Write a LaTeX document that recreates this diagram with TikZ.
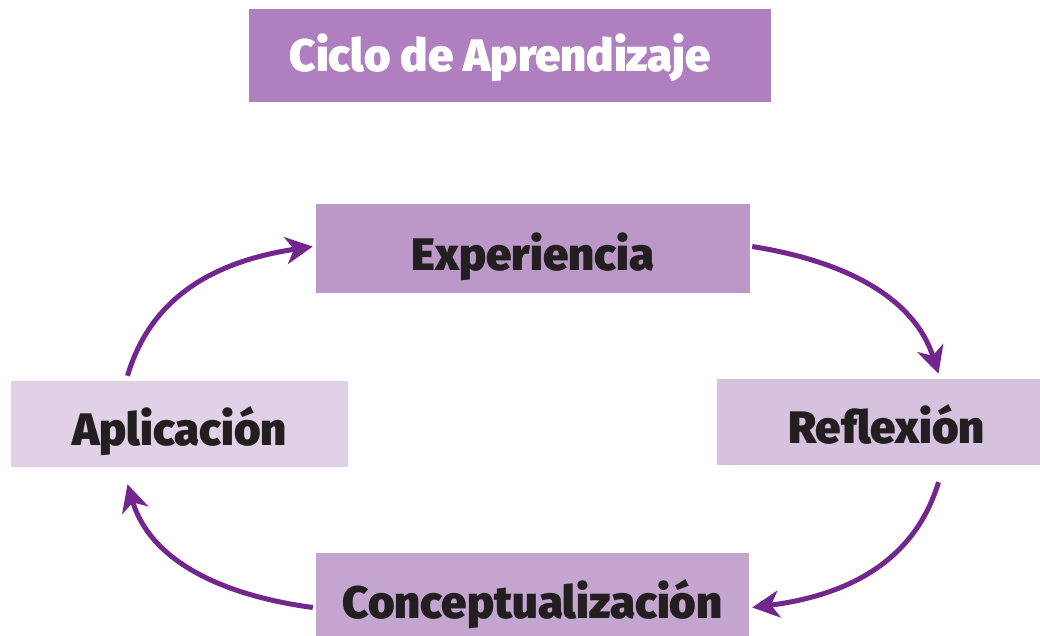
\documentclass[tikz,border=0pt]{standalone}
\usepackage{fontspec}
\setmainfont{Fira Sans}[BoldFont={* Black}]
\usetikzlibrary{arrows.meta}
\definecolor{titlebg}{HTML}{B07FC0}
\definecolor{expbg}{HTML}{BC98C8}
\definecolor{refbg}{HTML}{D6C2DF}
\definecolor{aplbg}{HTML}{E0D1E6}
\definecolor{conbg}{HTML}{C3A5CF}
\definecolor{arrowc}{HTML}{74268F}
\definecolor{txt}{HTML}{231F20}
\tikzset{
  box/.style={rectangle, inner sep=0pt, font=\bfseries\fontsize{45.5}{50}\selectfont, text=txt, text depth=0pt},
  cyc/.style={draw=arrowc, line width=5pt, -{Stealth[length=27pt,width=27pt,inset=8pt]}},
}
\begin{document}
\begin{tikzpicture}[x=1pt,y=-1pt]
\useasboundingbox (0,0) rectangle (1040,636);
\node[box, fill=titlebg, text=white, minimum width=522pt, minimum height=93pt, text height=33pt] (title) at (510,55.5) {\hspace*{-20pt}Ciclo de Aprendizaje};
\node[box, fill=expbg, minimum width=434pt, minimum height=89pt, text height=44pt] (exp) at (533,248.5) {Experiencia};
\node[box, fill=refbg, minimum width=323pt, minimum height=86pt, text height=42pt] (ref) at (878.5,422) {\hspace*{16pt}Reflexión};
\node[box, fill=aplbg, minimum width=337pt, minimum height=86pt, text height=42pt] (apl) at (179.5,424) {Aplicación};
\node[box, fill=conbg, minimum width=433pt, minimum height=83pt, text height=47pt] (con) at (532.5,594.5) {Conceptualización};
\draw[cyc] ([shift={(2,-2)}]exp.east) .. controls (850,262) and (915,300) .. ([shift={(60,-5)}]ref.north);
\draw[cyc] ([shift={(60,17)}]ref.south) .. controls (915,560) and (850,595) .. ([shift={(3,13)}]con.east);
\draw[cyc] ([shift={(-3,13)}]con.west) .. controls (220,595) and (150,560) .. ([shift={(-52,17)}]apl.south);
\draw[cyc] ([shift={(-52,-5)}]apl.north) .. controls (150,300) and (210,262) .. ([shift={(-3,-2)}]exp.west);
\end{tikzpicture}
\end{document}
